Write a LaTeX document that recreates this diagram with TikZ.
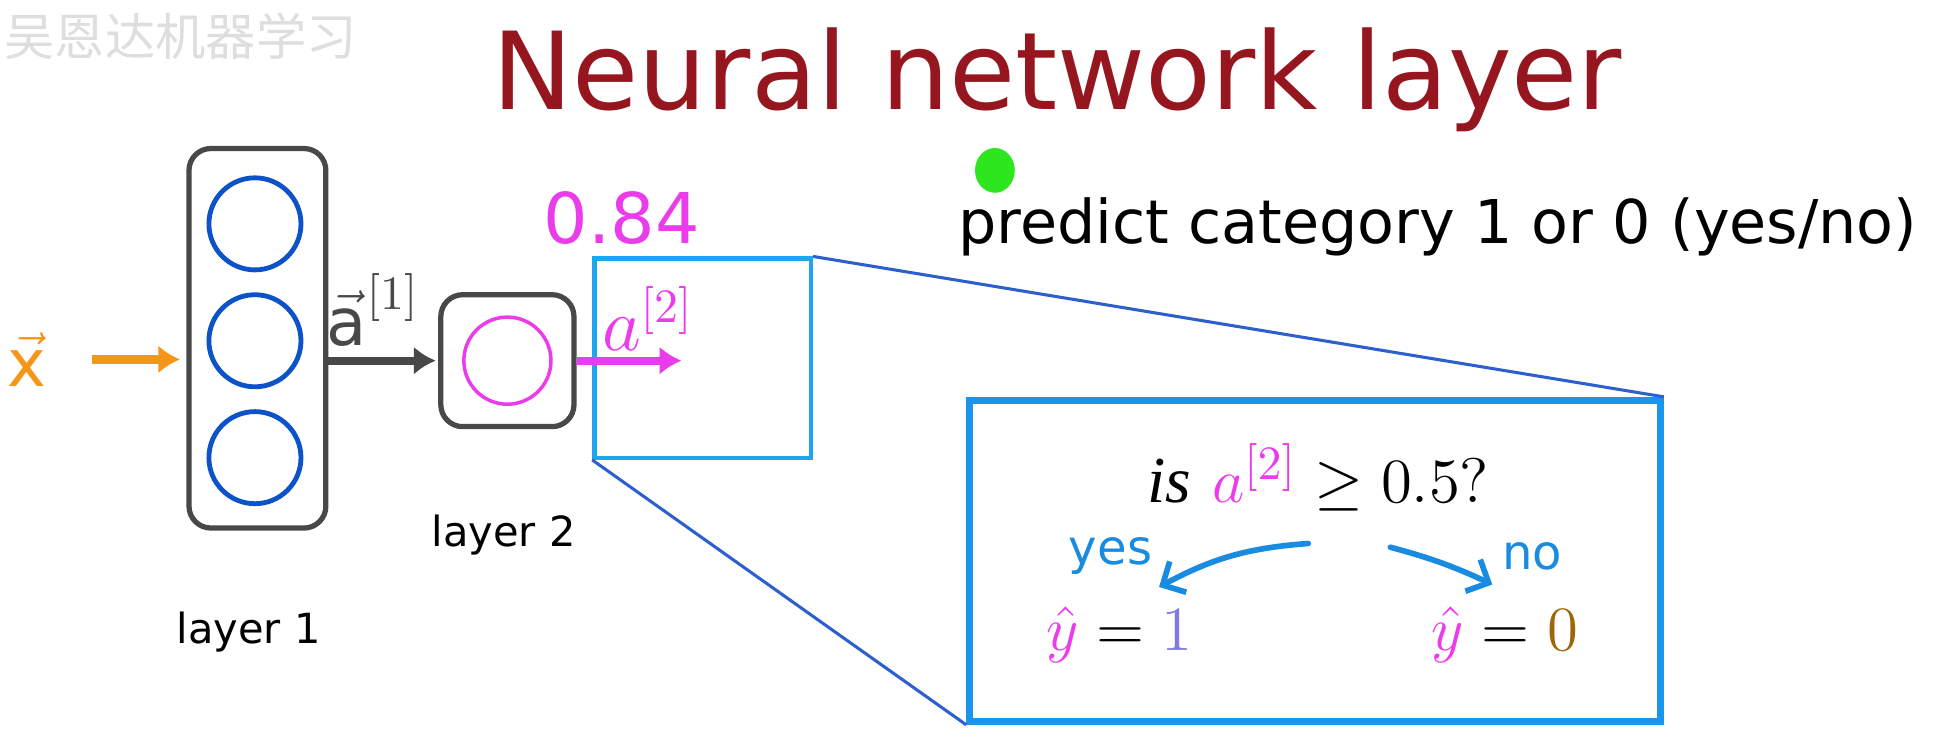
\documentclass[tikz,border=0pt]{standalone}
\usepackage{fontspec}
\setmainfont{DejaVu Sans}
\newfontfamily\cjkfont{Noto Sans CJK SC}
\newfontfamily\serifit{Liberation Serif}
\usepackage{amsmath,amssymb}
\usetikzlibrary{arrows.meta,positioning,calc}
\tikzset{>={Latex[length=5pt,width=6.5pt]}}
\definecolor{titlered}{RGB}{150,22,32}
\definecolor{nodeblue}{RGB}{12,82,200}
\definecolor{boxgray}{RGB}{72,72,72}
\definecolor{xorange}{RGB}{245,150,25}
\definecolor{amag}{RGB}{235,60,235}
\definecolor{zoomblue}{RGB}{30,165,240}
\definecolor{linkblue}{RGB}{45,95,205}
\definecolor{bigblue}{RGB}{25,150,235}
\definecolor{handblue}{RGB}{25,140,225}
\definecolor{onepurple}{RGB}{130,120,230}
\definecolor{zerobrown}{RGB}{160,100,10}
\definecolor{dotgreen}{RGB}{45,230,30}
\definecolor{wmgray}{RGB}{222,222,222}
\tikzset{
  layerbox/.style={draw=boxgray, line width=1.2pt, rounded corners=5pt, inner sep=0pt},
  unit/.style={circle, draw=nodeblue, line width=1.1pt, minimum size=0.74cm, inner sep=0pt},
  txt/.style={inner sep=0pt},
  handarrow/.style={handblue, line width=1.3pt, line cap=round, -{Straight Barb[length=4pt,width=8pt]}}
}
\begin{document}
\begin{tikzpicture}[x=0.01cm, y=-0.01cm]
\useasboundingbox (0,0) rectangle (1568,596);
\node[txt, anchor=west, text=wmgray, font=\cjkfont\fontsize{11.5}{12}\selectfont] (wm) at (3,29) {吴恩达机器学习};
\node[txt, anchor=base west, text=titlered, font=\fontsize{24.6}{28}\selectfont] (title) at (395,88) {Neural network layer};

\node[layerbox, minimum width=1.10cm, minimum height=3.05cm] (l1) at (207,272) {};
\node[unit] (u1) at (205,180) {};
\node[unit] (u2) at (205,274) {};
\node[unit] (u3) at (205,368) {};
\node[txt, font=\fontsize{9.5}{11}\selectfont] (l1lab) at (200,508) {layer 1};

\node[layerbox, minimum width=1.07cm, minimum height=1.06cm] (l2) at (408,290) {};
\node[unit, draw=amag, line width=0.8pt, minimum size=0.70cm] (u4) at (408,290) {};
\node[txt, font=\fontsize{9.5}{11}\selectfont] (l2lab) at (405,430) {layer 2};

\node[txt, text=xorange, font=\fontsize{15}{15}\selectfont] (x) at (22,289) {$\vec{\text{x}}$};
\node[txt, text=boxgray, font=\fontsize{15}{15}\selectfont] (a1) at (300,249) {$\vec{\text{a}}^{[1]}$};

\node[draw=zoomblue, line width=1pt, minimum width=1.74cm, minimum height=1.60cm] (zoom) at (565,288) {};
\node[draw=bigblue, line width=1.6pt, minimum width=5.55cm, minimum height=2.58cm] (big) at (1057.5,451) {};
\draw[linkblue, line width=0.7pt] (zoom.north east) -- (big.north east);
\draw[linkblue, line width=0.7pt] (zoom.south west) -- (big.south west);

\coordinate (a2end) at (548,290);
\draw[->, xorange, line width=1.9pt, shorten <=0.36cm, shorten >=0.05cm] (x.east) -- (x.east -| l1.west);
\draw[->, boxgray, line width=1.9pt, shorten >=0.02cm] (l1.east |- l2.west) -- (l2.west);
\draw[->, amag, line width=1.9pt] (l2.east) -- (a2end);
\node[txt, text=amag, font=\fontsize{16}{16}\selectfont] (a2) at (521,256) {$a^{[2]}$};
\node[txt, text=amag, font=\fontsize{16}{16}\selectfont] (val) at (500,175) {0.84};

\fill[dotgreen] (800,137) ellipse [x radius=16, y radius=18];
\node[txt, anchor=base west, font=\fontsize{13.8}{16}\selectfont] (pred) at (770,196) {predict category 1 or 0 (yes/no)};

\node[txt, font=\fontsize{15}{15}\selectfont] (q) at (1060,384) {{\serifit\itshape is}\ ${\color{amag}a^{[2]}} \geq 0.5?$};
\node[txt, font=\fontsize{15}{15}\selectfont] (y1) at (900,510) {$\textcolor{amag}{\hat{y}} = \textcolor{onepurple}{1}$};
\node[txt, font=\fontsize{15}{15}\selectfont] (y0) at (1210,510) {$\textcolor{amag}{\hat{y}} = \textcolor{zerobrown}{0}$};
\node[txt, text=handblue, font=\fontsize{11}{11}\selectfont] (yes) at (893,447) {yes};
\node[txt, text=handblue, font=\fontsize{11}{11}\selectfont] (no) at (1232,447) {no};
\coordinate (yesfrom) at (1052,437);
\coordinate (yesto) at (932,472);
\coordinate (nofrom) at (1118,440);
\coordinate (noto) at (1200,470);
\draw[handarrow] (yesfrom) to[bend right=12] (yesto);
\draw[handarrow] (nofrom) to[bend left=5] (noto);
\end{tikzpicture}
\end{document}
